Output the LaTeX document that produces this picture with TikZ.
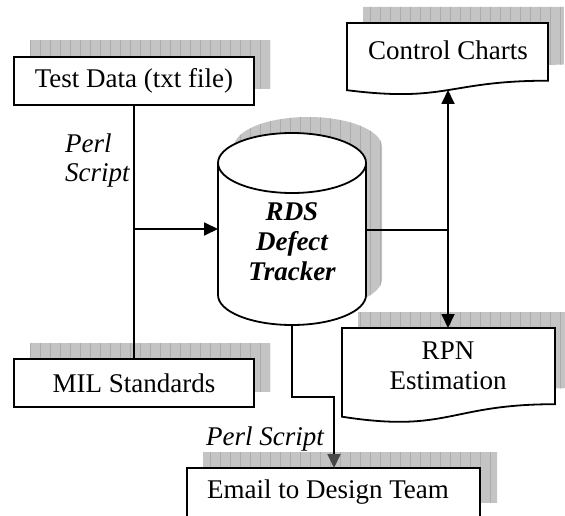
\documentclass[tikz,border=0pt]{standalone}
\usepackage{fontspec}
\setmainfont{Liberation Serif}
\usetikzlibrary{arrows.meta}

% hatched drop shadow: grey fill with a fine grid, clipped to the given path
\newcommand{\hatchedshadow}[1]{%
  \begin{scope}
    \clip #1;
    \fill[shadowfill] (0,0) rectangle (575,530);
    \draw[gridline] (0,0) grid[step=10] (575,530);
  \end{scope}}

\tikzset{
  outline/.style={draw=black, line width=1.8bp},
  shadowfill/.style={fill={rgb,255:red,196;green,196;blue,196}},
  gridline/.style={draw={rgb,255:red,172;green,172;blue,172}, line width=0.5bp},
  box/.style={outline, fill=white, rectangle, inner sep=0pt},
  txt/.style={font=\fontsize{27bp}{30bp}\selectfont, inner sep=0pt, align=center},
  connector/.style={draw=black, line width=1.8bp},
  headtip/.tip={Triangle[length=14bp,width=13bp]},
  greytip/.tip={Triangle[length=14bp,width=13bp,color=black!72]},
}

\begin{document}
\begin{tikzpicture}[x=1bp,y=-1bp]
  \clip (0,0) rectangle (565,516);
  \useasboundingbox (0,0) rectangle (565,516);

  % ---- shadows ----
  \hatchedshadow{(30,41) rectangle (270,89)}
  \hatchedshadow{(30,343) rectangle (270,391)}
  \hatchedshadow{(203,452) rectangle (497,502)}
  \hatchedshadow{(234,147) -- (234,279) arc[start angle=180,end angle=0,x radius=74,y radius=30]
                 -- (382,147) arc[start angle=0,end angle=-180,x radius=74,y radius=30] -- cycle}
  \hatchedshadow{(363,7) -- (564,7) -- (564,64.7) .. controls (463.5,64.7) and (463.5,86.8) .. (363,74.2) -- cycle}
  \hatchedshadow{(358,312) -- (571,312) -- (571,388.2) .. controls (464.5,388.2) and (464.5,417.3) .. (358,400.7) -- cycle}

  % ---- rectangular boxes ----
  \node[box, minimum width=240bp, minimum height=48bp] (test) at (134,81) {};
  \node[box, minimum width=240bp, minimum height=48bp] (mil) at (134,383) {};
  \node[box, minimum width=293bp, minimum height=50bp] (email) at (333.5,493) {};

  % ---- database cylinder ----
  \filldraw[outline, fill=white] (218,163) -- (218,295)
      arc[start angle=180,end angle=0,x radius=74,y radius=30]
      -- (366,163) arc[start angle=0,end angle=-180,x radius=74,y radius=30] -- cycle;
  \draw[outline] (218,163) arc[start angle=180,end angle=0,x radius=74,y radius=30];

  % ---- document shapes ----
  \filldraw[outline, fill=white] (347,23) -- (548,23) -- (548,80.7)
      .. controls (447.5,80.7) and (447.5,102.8) .. (347,90.2) -- cycle;
  \filldraw[outline, fill=white] (342,328) -- (555,328) -- (555,404.2)
      .. controls (448.5,404.2) and (448.5,433.3) .. (342,416.7) -- cycle;

  % ---- anchor points ----
  \coordinate (rds-west) at (218,229);
  \coordinate (rds-east) at (366,230);
  \coordinate (rds-south) at (292,325);
  \coordinate (junction) at (134,229);
  \coordinate (charts-in) at (448,90);
  \coordinate (rpn-in) at (448,328);
  \coordinate (email-in) at (334,468);

  % ---- connectors ----
  \draw[connector] (test.south) -- (mil.north);
  \draw[connector, -headtip] (junction) -- (rds-west);
  \draw[connector] (rds-east) -- (rds-east -| charts-in);
  \draw[connector, headtip-headtip] (charts-in) -- (rpn-in);
  \draw[connector, -greytip] (rds-south) -- ++(0,72) -| (email-in);

  % ---- labels ----
  \node[txt] (test-label) at (test.center) {Test Data (txt file)};
  \node[txt] (mil-label) at (mil.center) {MIL Standards};
  \node[txt] (email-label) at (328,492) {Email to Design Team};
  \node[txt] (charts-label) at (448,50) {Control Charts};
  \node[txt] (rpn-label) at (448,366) {RPN\\Estimation};
  \node[txt, font=\fontsize{27bp}{30bp}\selectfont\bfseries\itshape] (rds) at (292,242) {RDS\\Defect\\Tracker};
  \node[txt, font=\fontsize{27bp}{29bp}\selectfont\itshape, align=left, anchor=west] (perl-top) at (65,161) {Perl\\Script};
  \node[txt, font=\fontsize{27bp}{30bp}\selectfont\itshape, anchor=base west] (perl-bottom) at (206,445) {Perl Script};
\end{tikzpicture}
\end{document}
